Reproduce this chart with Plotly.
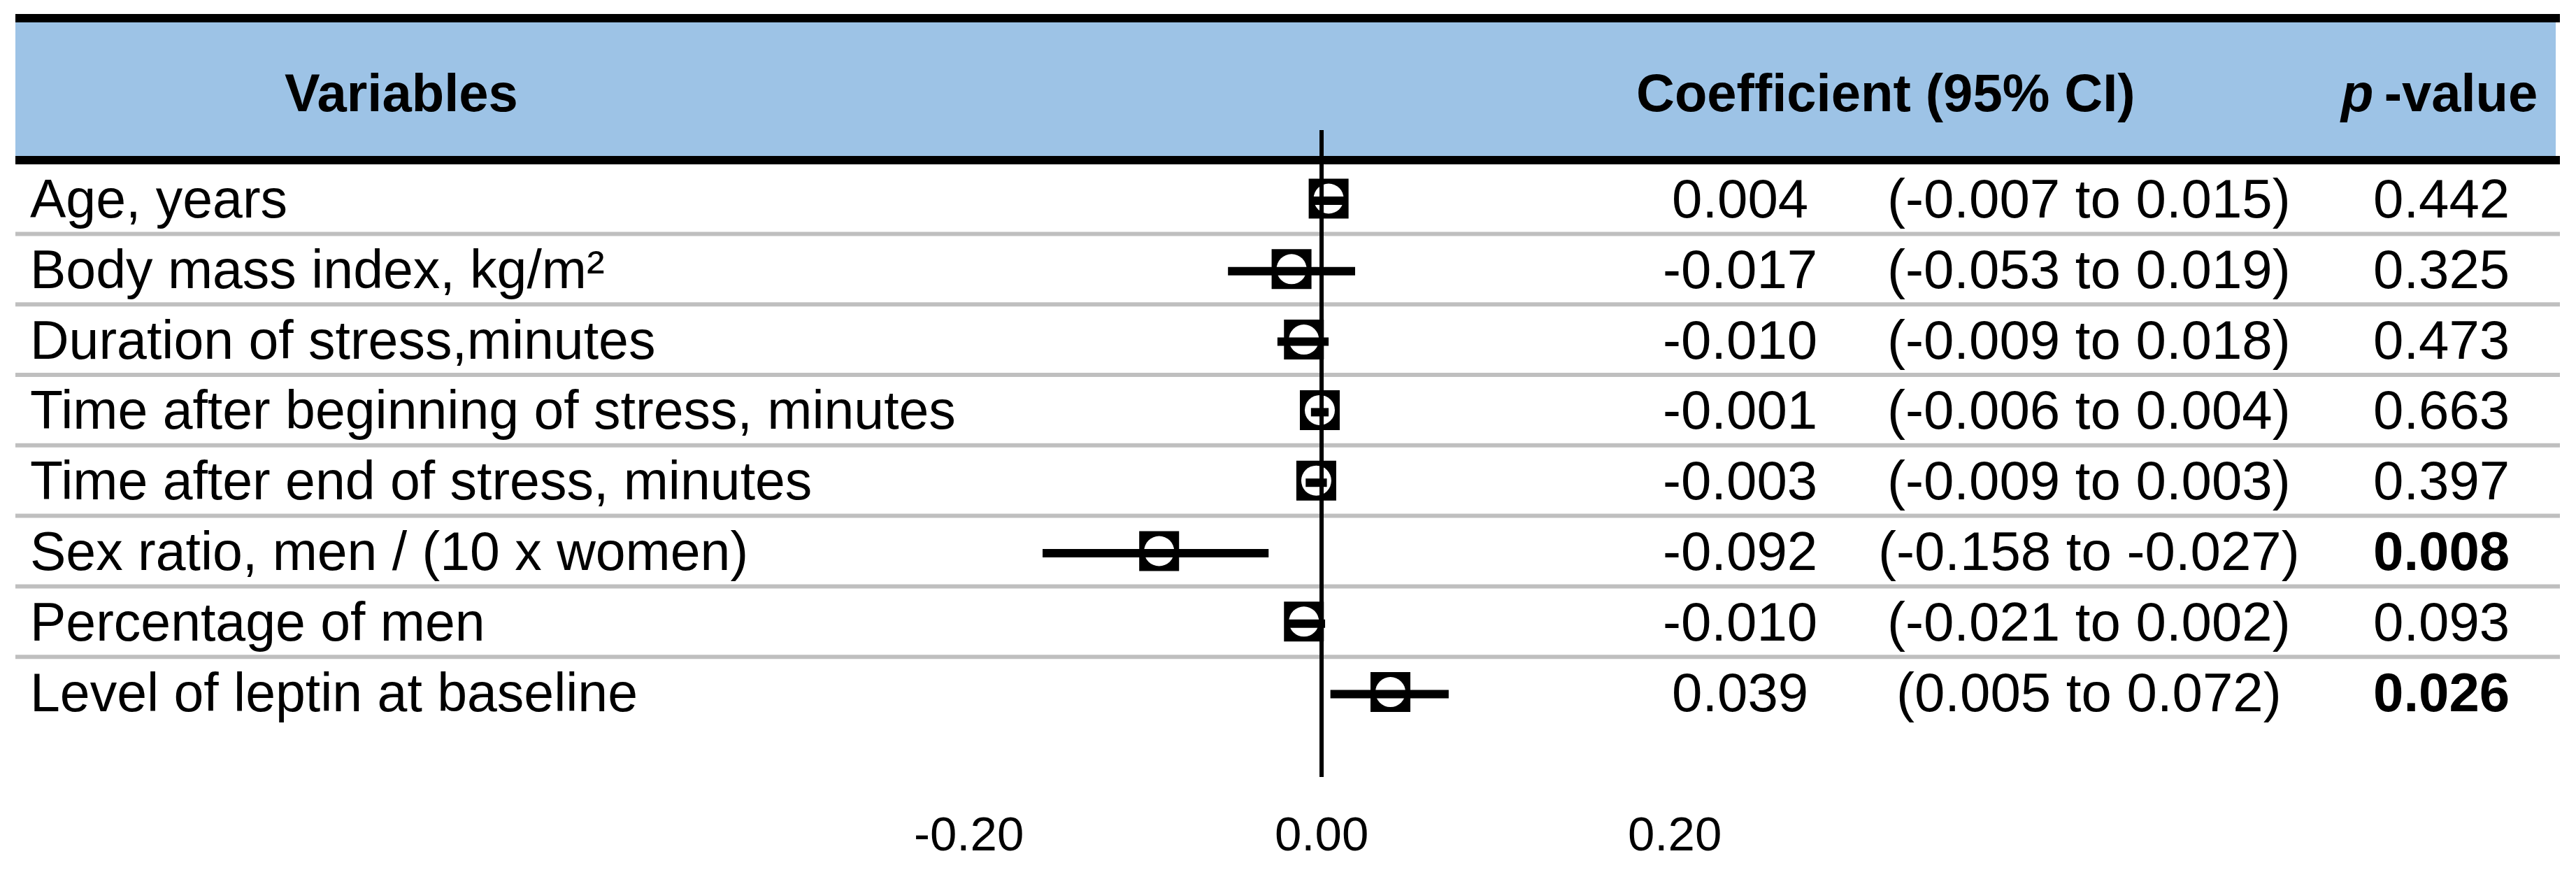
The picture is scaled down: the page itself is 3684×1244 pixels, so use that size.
import plotly.graph_objects as go

# ---------------- data ----------------
variables = [
    "Age, years",
    "Body mass index, kg/m²",
    "Duration of stress,minutes",
    "Time after beginning of stress, minutes",
    "Time after end of stress, minutes",
    "Sex ratio, men / (10 x women)",
    "Percentage of men",
    "Level of leptin at baseline",
]
coef = [0.004, -0.017, -0.010, -0.001, -0.003, -0.092, -0.010, 0.039]
ci_low = [-0.007, -0.053, -0.009, -0.006, -0.009, -0.158, -0.021, 0.005]
ci_high = [0.015, 0.019, 0.018, 0.004, 0.003, -0.027, 0.002, 0.072]
# whisker extents as drawn in the picture
whisker_low = [-0.007, -0.053, -0.025, -0.006, -0.009, -0.158, -0.021, 0.005]
whisker_high = [0.015, 0.019, 0.004, 0.004, 0.003, -0.030, 0.002, 0.072]
p_values = [0.442, 0.325, 0.473, 0.663, 0.397, 0.008, 0.093, 0.026]
tick_vals = [-0.20, 0.00, 0.20]
tick_text = ["-0.20", "0.00", "0.20"]
header_labels = ["Variables", "Coefficient (95% CI)", "<i>p</i>\u2009-value"]

# ---------------- layout constants ----------------
W, H = 3684, 1244
FONT = "Liberation Sans, Arial, Helvetica, sans-serif"
HEAD = 76
LABEL = 77
NUM = 78
TICK = 69
ROW0 = 284.0      # pixel centre of first row
PITCH = 100.8     # row pitch in pixels
ZERO_PX = 1890.0  # pixel position of x = 0
PPU = 2525.0      # pixels per coefficient unit
LEFT, RIGHT = 22, 3661

def py(p):
    return 1 - p / H

def pxp(p):
    return p / W

n = len(variables)
rows = list(range(n))

fig = go.Figure()

# black square markers
fig.add_trace(go.Scatter(
    x=coef, y=rows, mode="markers",
    marker=dict(symbol="square", size=57, color="black", line=dict(width=0)),
    hoverinfo="skip", showlegend=False,
))
# white inner circle
fig.add_trace(go.Scatter(
    x=coef, y=rows, mode="markers",
    marker=dict(symbol="circle", size=43, color="white", line=dict(width=0)),
    hoverinfo="skip", showlegend=False,
))
# whiskers
wx, wy = [], []
for i, (lo, hi) in enumerate(zip(whisker_low, whisker_high)):
    wx += [lo, hi, None]
    wy += [i + 0.03, i + 0.03, None]
fig.add_trace(go.Scatter(
    x=wx, y=wy, mode="lines",
    line=dict(color="black", width=12),
    hoverinfo="skip", showlegend=False,
))

shapes = []
# header band
shapes.append(dict(type="rect", xref="paper", yref="paper",
                   x0=pxp(LEFT), x1=pxp(3655), y0=py(223), y1=py(32),
                   fillcolor="#9DC3E6", line=dict(width=0), layer="below"))
for top, bot in [(20, 32), (223, 235)]:
    shapes.append(dict(type="rect", xref="paper", yref="paper",
                       x0=pxp(LEFT), x1=pxp(RIGHT), y0=py(bot), y1=py(top),
                       fillcolor="black", line=dict(width=0), layer="below"))
# row separators
for i in range(n - 1):
    shapes.append(dict(type="line", xref="paper", yref="y",
                       x0=pxp(LEFT), x1=pxp(RIGHT), y0=i + 0.5, y1=i + 0.5,
                       line=dict(color="#BFBFBF", width=6), layer="below"))
# zero line
shapes.append(dict(type="line", xref="x", yref="paper",
                   x0=0, x1=0, y0=py(1111), y1=py(186),
                   line=dict(color="black", width=6), layer="above"))

ann = []
head_font = dict(family=FONT, size=HEAD, color="black")
label_font = dict(family=FONT, size=LABEL, color="black")
num_font = dict(family=FONT, size=NUM, color="black")
# headers
for label, xc in zip(header_labels, [574, 2697, 3487]):
    ann.append(dict(text=f"<b>{label}</b>", x=pxp(xc), xref="paper",
                    y=py(132), yref="paper", xanchor="center", yanchor="middle",
                    showarrow=False, font=head_font))
# table body
for i in rows:
    ann.append(dict(text=variables[i], x=pxp(41), xref="paper", y=i, yref="y",
                    xanchor="left", yanchor="middle", showarrow=False, font=label_font))
    ann.append(dict(text=f"{coef[i]:.3f}", x=pxp(2488), xref="paper", y=i, yref="y",
                    xanchor="center", yanchor="middle", showarrow=False, font=num_font))
    ann.append(dict(text=f"({ci_low[i]:.3f} to {ci_high[i]:.3f})", x=pxp(2987), xref="paper",
                    y=i, yref="y", xanchor="center", yanchor="middle",
                    showarrow=False, font=num_font))
    ptxt = f"{p_values[i]:.3f}"
    if p_values[i] < 0.05:
        ptxt = f"<b>{ptxt}</b>"
    ann.append(dict(text=ptxt, x=pxp(3491), xref="paper", y=i, yref="y",
                    xanchor="center", yanchor="middle", showarrow=False, font=num_font))
# x tick labels
for v, t in zip(tick_vals, tick_text):
    ann.append(dict(text=t, x=v, xref="x", y=py(1192), yref="paper",
                    xanchor="center", yanchor="middle", showarrow=False,
                    font=dict(family=FONT, size=TICK, color="black")))

fig.update_layout(
    width=W, height=H, autosize=False,
    margin=dict(l=0, r=0, t=0, b=0, pad=0),
    paper_bgcolor="white", plot_bgcolor="white",
    xaxis=dict(range=[-ZERO_PX / PPU, (W - ZERO_PX) / PPU], visible=False, fixedrange=True),
    yaxis=dict(range=[(H - ROW0) / PITCH, -ROW0 / PITCH], visible=False, fixedrange=True),
    shapes=shapes, annotations=ann, showlegend=False,
)

fig.write_html("out.html", config={"displayModeBar": False},
               post_script="document.body.style.margin='0';document.body.style.overflow='hidden';")
